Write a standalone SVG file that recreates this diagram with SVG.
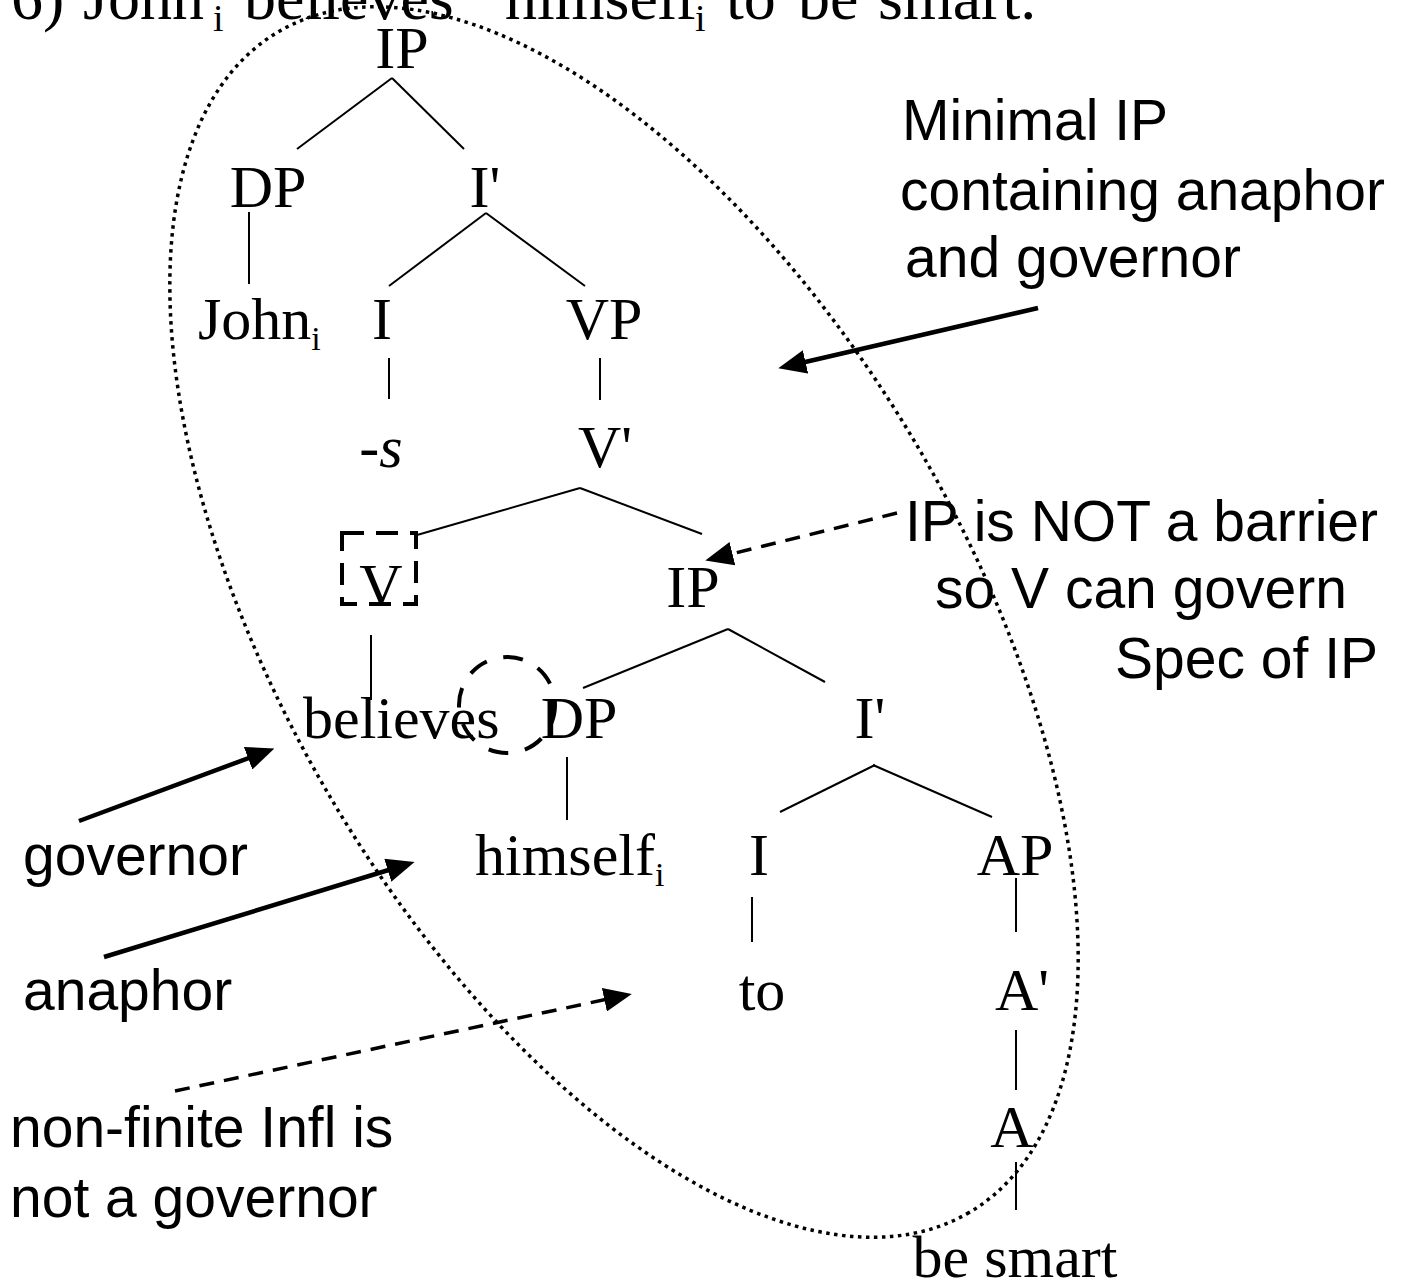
<svg xmlns="http://www.w3.org/2000/svg" width="1414" height="1282" viewBox="0 0 1414 1282">
<defs>
<style>
.t{font-family:"Liberation Serif","Times New Roman",serif;font-size:60px;fill:#000}
.tm{text-anchor:middle}
.s{font-family:"Liberation Sans",Arial,sans-serif;font-size:57px;fill:#000}
.e{stroke:#000;stroke-width:2;fill:none}
.a{stroke:#000;stroke-width:4.5;fill:none;marker-end:url(#ah)}
.d{stroke:#000;stroke-width:3.5;fill:none;stroke-dasharray:15 10;marker-end:url(#ah)}
</style>
<marker id="ah" viewBox="0 0 28 24" refX="18" refY="12" markerWidth="28" markerHeight="24" markerUnits="userSpaceOnUse" orient="auto">
<path d="M0,0 L28,12 L0,24 Z" fill="#000"/>
</marker>
</defs>
<rect width="1414" height="1282" fill="#fff"/>

<g id="title">
<text class="t" style="font-size:64px" y="19"><tspan x="11">6)</tspan><tspan x="83">John</tspan><tspan x="213" y="31" style="font-size:38px">i</tspan><tspan x="244" y="19">believes</tspan><tspan x="505">himself</tspan><tspan x="695" y="31" style="font-size:38px">i</tspan><tspan x="726" y="19">to</tspan><tspan x="798">be</tspan><tspan x="878">smart.</tspan></text>
</g>

<g id="scope">
<ellipse cx="624" cy="622" rx="684" ry="342" transform="rotate(59.7 624 622)" fill="none" stroke="#000" stroke-width="3.5" stroke-dasharray="3.5 4.5"/>
</g>

<g id="connectors">
<line class="e" x1="392" y1="78" x2="297" y2="149"/>
<line class="e" x1="392" y1="78" x2="464" y2="149"/>
<line class="e" x1="249" y1="212" x2="249" y2="284"/>
<line class="e" x1="486" y1="213" x2="389" y2="286"/>
<line class="e" x1="486" y1="213" x2="585" y2="286"/>
<line class="e" x1="389" y1="358" x2="389" y2="399"/>
<line class="e" x1="600" y1="358" x2="600" y2="400"/>
<line class="e" x1="580" y1="488" x2="417" y2="535"/>
<line class="e" x1="580" y1="488" x2="702" y2="534"/>
<line class="e" x1="371" y1="635" x2="371" y2="700"/>
<line class="e" x1="728" y1="629" x2="583" y2="688"/>
<line class="e" x1="728" y1="629" x2="825" y2="682"/>
<line class="e" x1="567" y1="757" x2="567" y2="820"/>
<line class="e" x1="875" y1="765" x2="780" y2="812"/>
<line class="e" x1="873" y1="765" x2="992" y2="817"/>
<line class="e" x1="752" y1="897" x2="752" y2="942"/>
<line class="e" x1="1016" y1="878" x2="1016" y2="932"/>
<line class="e" x1="1016" y1="1030" x2="1016" y2="1090"/>
<line class="e" x1="1016" y1="1162" x2="1016" y2="1210"/>
<line class="a" x1="1038" y1="308" x2="788" y2="366"/>
<line class="a" x1="79" y1="821" x2="265" y2="752"/>
<line class="a" x1="104" y1="957" x2="405" y2="865"/>
<line class="d" x1="897" y1="513" x2="715" y2="558"/>
<line class="d" x1="175" y1="1091" x2="622" y2="996"/>
</g>

<g id="n-ip1"><text class="t tm" x="402" y="68">IP</text></g>
<g id="n-dp1"><text class="t tm" x="268" y="207">DP</text></g>
<g id="n-ibar1"><text class="t tm" x="485" y="207">I'</text></g>
<g id="n-john"><text class="t" x="198" y="339">John<tspan dy="11" style="font-size:34px">i</tspan></text></g>
<g id="n-i1"><text class="t tm" x="382" y="339">I</text></g>
<g id="n-vp"><text class="t tm" x="604" y="339">VP</text></g>
<g id="n-s"><text class="t tm" x="381" y="467" font-style="italic">-s</text></g>
<g id="n-vbar"><text class="t tm" x="605" y="467">V'</text></g>
<g id="n-v">
<rect x="342" y="533" width="74" height="71" fill="none" stroke="#000" stroke-width="4" stroke-dasharray="22 12"/>
<text class="t tm" x="381" y="605">V</text></g>
<g id="n-ip2"><text class="t tm" x="693" y="607">IP</text></g>
<g id="n-believes"><text class="t" x="303" y="738">believes</text></g>
<g id="n-dp2">
<text class="t tm" x="579" y="738">DP</text>
<circle cx="507" cy="705" r="48" fill="none" stroke="#000" stroke-width="4" stroke-dasharray="20 17"/></g>
<g id="n-ibar2"><text class="t tm" x="870" y="738">I'</text></g>
<g id="n-himself"><text class="t" x="475" y="875">himself<tspan dy="11" style="font-size:34px">i</tspan></text></g>
<g id="n-i2"><text class="t tm" x="759" y="875">I</text></g>
<g id="n-ap"><text class="t tm" x="1015" y="875">AP</text></g>
<g id="n-to"><text class="t tm" x="762" y="1010">to</text></g>
<g id="n-abar"><text class="t tm" x="1022" y="1010">A'</text></g>
<g id="n-a"><text class="t tm" x="1012" y="1147">A</text></g>
<g id="n-besmart"><text class="t tm" x="1015" y="1277">be smart</text></g>

<g id="label-minimal">
<text class="s" x="902" y="140">Minimal IP</text>
<text class="s" x="900" y="210">containing anaphor</text>
<text class="s" x="905" y="277">and governor</text>
</g>
<g id="label-barrier">
<text class="s" x="905" y="541">IP is NOT a barrier</text>
<text class="s" x="935" y="608">so V can govern</text>
<text class="s" x="1115" y="678">Spec of IP</text>
</g>
<g id="label-governor"><text class="s" x="23" y="875">governor</text></g>
<g id="label-anaphor"><text class="s" x="23" y="1010">anaphor</text></g>
<g id="label-infl">
<text class="s" x="10" y="1147">non-finite Infl is</text>
<text class="s" x="10" y="1217">not a governor</text>
</g>
</svg>
